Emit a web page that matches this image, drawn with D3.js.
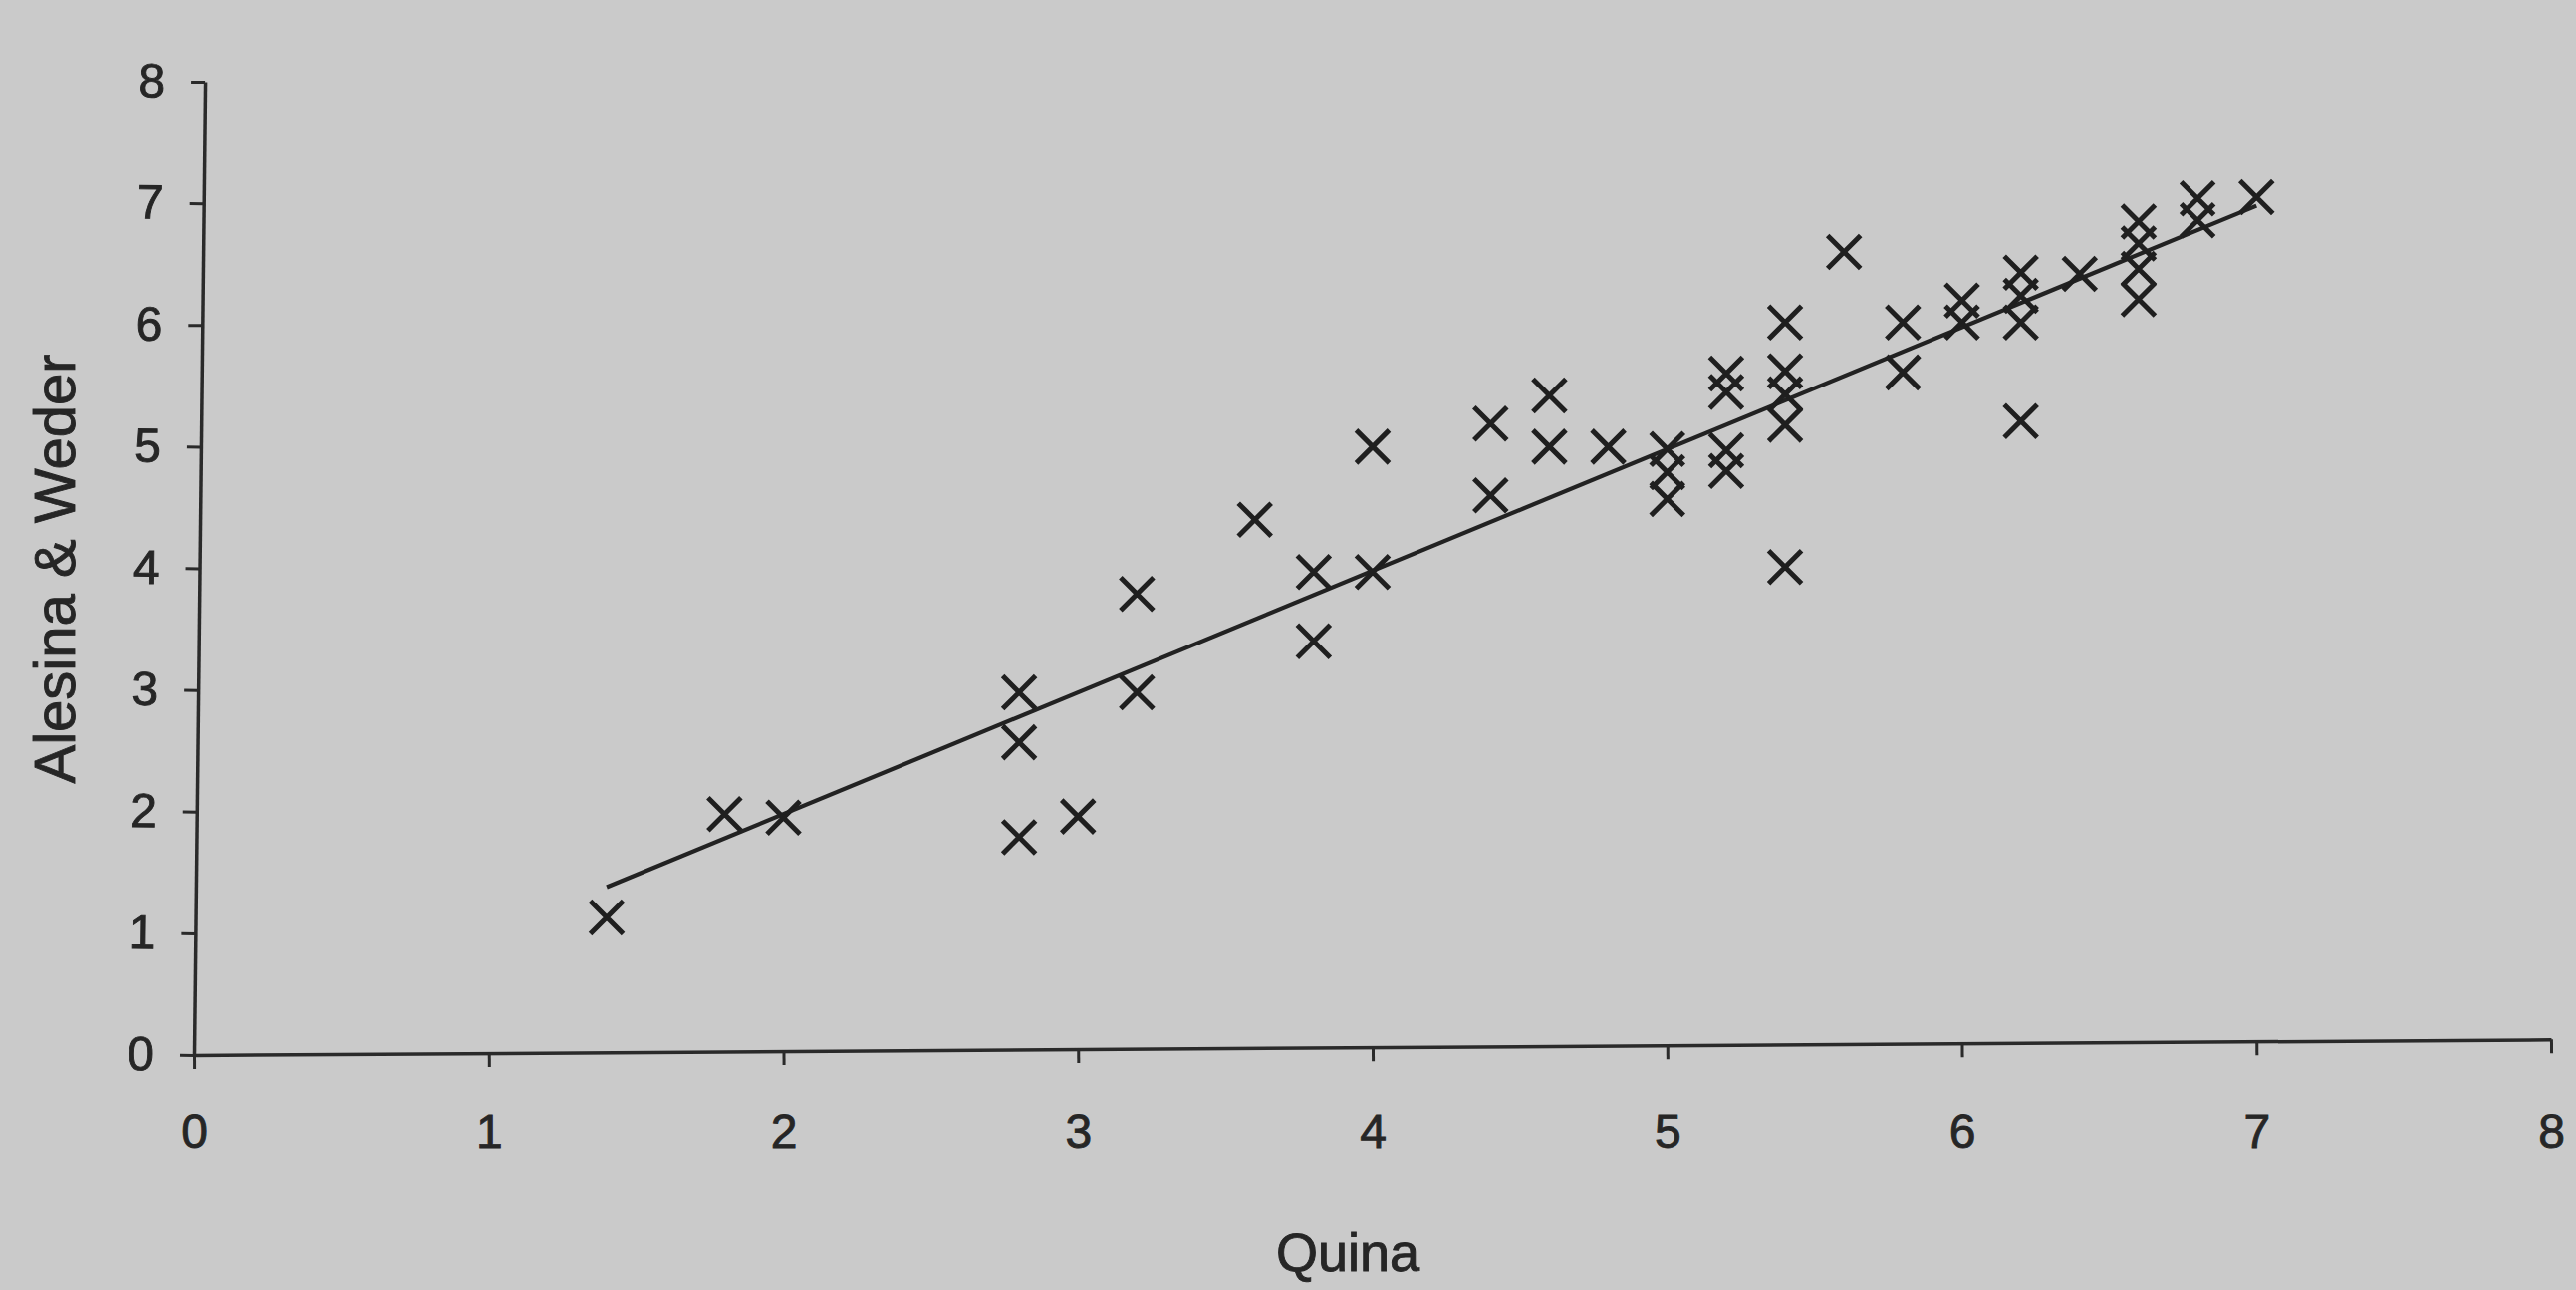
<!DOCTYPE html>
<html>
<head>
<meta charset="utf-8">
<script src="https://cdn.jsdelivr.net/npm/d3@7"></script>
<style>
  html, body { margin: 0; padding: 0; background: #cacaca; }
  svg { display: block; }
  text { font-family: "Liberation Sans", Arial, sans-serif; fill: #262626; stroke: #262626; stroke-width: 0.9px; }
</style>
</head>
<body>
<svg id="chart" width="2586" height="1295"></svg>
<script>
// ---- data ----
const quina = [1.4, 1.8, 2.0, 2.8, 2.8, 2.8, 3.0, 3.2, 3.2, 3.6, 3.8, 3.8, 4.0, 4.0,
  4.4, 4.4, 4.6, 4.6, 4.8, 5.0, 5.0, 5.0, 5.2, 5.2, 5.2, 5.2, 5.4, 5.4, 5.4, 5.4, 5.4,
  5.6, 5.8, 5.8, 6.0, 6.0, 6.2, 6.2, 6.2, 6.2, 6.4, 6.6, 6.6, 6.6, 6.6, 6.8, 6.8, 7.0];
const alesinaWeder = [1.13, 1.98, 1.95, 2.98, 2.57, 1.79, 1.96, 2.98, 3.79, 4.40, 3.97, 3.40, 3.97, 5.00,
  5.19, 4.60, 5.42, 5.00, 5.00, 4.98, 4.79, 4.57, 5.60, 5.45, 4.97, 4.80, 6.02, 5.62, 5.43, 5.18, 4.01,
  6.60, 6.02, 5.61, 6.20, 6.02, 6.43, 6.24, 6.02, 5.21, 6.42, 6.85, 6.67, 6.46, 6.21, 7.04, 6.86, 7.05];
const trendX = [1.4, 7.0];
const trendY = [1.38, 6.98];
const xTicks = [0, 1, 2, 3, 4, 5, 6, 7, 8];
const yTicks = [0, 1, 2, 3, 4, 5, 6, 7, 8];
const xTitle = "Quina";
const yTitle = "Alesina & Weder";

// ---- layout ----
const svg = d3.select("#chart");
const x0 = 195, x1 = 2561, yBottom = 1059, yTop = 82;
const x = d3.scaleLinear().domain([0, 8]).range([x0, x1]);
const y = d3.scaleLinear().domain([0, 8]).range([yBottom, yTop]);
const ink = "#2a2a2a";

svg.append("rect").attr("width", 2586).attr("height", 1295).attr("fill", "#cacaca");

// x axis line + ticks (slightly tilted, as in the scan)
const gxLines = svg.append("g")
  .attr("transform", `translate(0,${yBottom}) rotate(-0.38, ${x0}, 0)`)
  .call(d3.axisBottom(x).tickValues(xTicks).tickSize(14).tickSizeOuter(0).tickFormat(""));
gxLines.select(".domain").attr("stroke", ink).attr("stroke-width", 3.5);
gxLines.selectAll(".tick line").attr("stroke", ink).attr("stroke-width", 3);

// x tick labels
const gxLabels = svg.append("g")
  .attr("transform", `translate(0,${yBottom})`)
  .call(d3.axisBottom(x).tickValues(xTicks).tickSize(0).tickPadding(59).tickFormat(d3.format("d")));
gxLabels.select(".domain").remove();
gxLabels.selectAll("text").attr("font-size", 48).attr("fill", "#262626")
  .attr("font-family", "Liberation Sans, Arial, sans-serif");

// y axis (slightly tilted)
const gy = svg.append("g")
  .attr("transform", `translate(${x0},0) rotate(0.65, 0, ${yBottom})`)
  .call(d3.axisLeft(y).tickValues(yTicks).tickSize(14).tickSizeOuter(0).tickPadding(26).tickFormat(d3.format("d")));
gy.select(".domain").attr("stroke", ink).attr("stroke-width", 3.5);
gy.selectAll(".tick line").attr("stroke", ink).attr("stroke-width", 3);
gy.selectAll("text").attr("font-size", 48).attr("fill", "#262626")
  .attr("font-family", "Liberation Sans, Arial, sans-serif");

// axis titles
svg.append("text")
  .attr("x", 1353).attr("y", 1276)
  .attr("text-anchor", "middle")
  .attr("font-size", 54)
  .text(xTitle);
svg.append("text")
  .attr("transform", "translate(75,571) rotate(-90)")
  .attr("text-anchor", "middle")
  .attr("font-size", 58)
  .text(yTitle);

// trend line
const trend = trendX.map((v, i) => [v, trendY[i]]);
svg.append("path")
  .datum(trend)
  .attr("fill", "none")
  .attr("stroke", "#222")
  .attr("stroke-width", 4.2)
  .attr("d", d3.line().x(d => x(d[0])).y(d => y(d[1])));

// X markers
const pts = quina.map((v, i) => ({ q: v, a: alesinaWeder[i] }));
const s = 16.5;
svg.append("g")
  .selectAll("path")
  .data(pts)
  .join("path")
  .attr("transform", d => `translate(${x(d.q)},${y(d.a)})`)
  .attr("d", `M${-s},${-s}L${s},${s}M${-s},${s}L${s},${-s}`)
  .attr("fill", "none")
  .attr("stroke", "#1f1f1f")
  .attr("stroke-width", 5);
</script>
</body>
</html>
